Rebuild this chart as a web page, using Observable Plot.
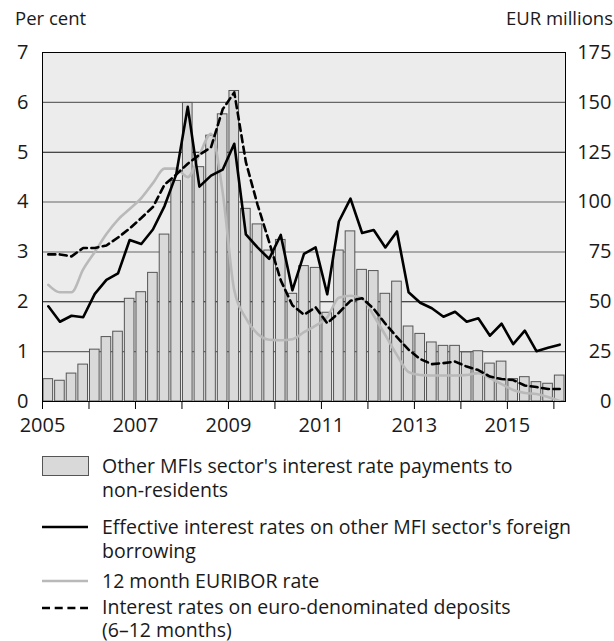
<!DOCTYPE html>
<html><head><meta charset="utf-8">
<script src="https://cdn.jsdelivr.net/npm/d3@7"></script>
<script src="https://cdn.jsdelivr.net/npm/@observablehq/plot@0.6"></script>
<style>
body{margin:0;background:#fff;font-family:"Open Sans",sans-serif;color:#1a1a1a;}
#wrap{position:relative;width:614px;height:641px;overflow:hidden;}
#wrap svg.plot{position:absolute;left:0;top:0;}
.t{position:absolute;font-size:18.5px;line-height:20px;white-space:nowrap;}
.leg{position:absolute;left:102px;font-size:19.5px;line-height:24px;white-space:nowrap;}
.sw{position:absolute;left:42px;}
</style></head><body><div id="wrap"></div>
<script>
const quarters = ["2005Q1","2005Q2","2005Q3","2005Q4","2006Q1","2006Q2","2006Q3","2006Q4",
  "2007Q1","2007Q2","2007Q3","2007Q4","2008Q1","2008Q2","2008Q3","2008Q4",
  "2009Q1","2009Q2","2009Q3","2009Q4","2010Q1","2010Q2","2010Q3","2010Q4",
  "2011Q1","2011Q2","2011Q3","2011Q4","2012Q1","2012Q2","2012Q3","2012Q4",
  "2013Q1","2013Q2","2013Q3","2013Q4","2014Q1","2014Q2","2014Q3","2014Q4",
  "2015Q1","2015Q2","2015Q3","2015Q4","2016Q1"];
// EUR millions (right axis)
const payments = [11.2,10.4,14,18.5,26,32.3,35,51.5,54.8,64.5,83.7,110.6,149.7,117.5,133.3,144,
  155.7,96.6,88.8,75.7,81,54,67.9,67,44.5,75.7,85.3,66,65.4,54,60.1,37.6,
  33.9,29.6,27.9,27.9,24.6,25.2,19,20,11.2,12.2,9.7,8.9,13];
// Per cent (left axis)
const effective = [1.91,1.60,1.72,1.69,2.16,2.44,2.57,3.24,3.16,3.45,3.92,4.55,5.91,4.31,4.53,4.65,
  5.17,3.35,3.09,2.86,3.34,2.23,2.96,3.09,2.15,3.61,4.07,3.38,3.44,3.09,3.41,2.19,
  1.98,1.87,1.70,1.80,1.60,1.67,1.32,1.56,1.15,1.42,1.01,1.08,1.14];
const euribor = [2.34,2.19,2.19,2.65,3.0,3.36,3.65,3.86,4.08,4.38,4.67,4.67,4.5,4.95,5.37,4.2,
  2.23,1.67,1.36,1.24,1.23,1.25,1.39,1.52,1.69,2.08,2.12,2.07,1.72,1.33,0.93,0.59,
  0.53,0.52,0.52,0.52,0.53,0.57,0.47,0.35,0.23,0.17,0.15,0.09,0.01];
const deposits = [2.95,2.95,2.91,3.08,3.08,3.13,3.29,3.47,3.68,3.9,4.35,4.55,4.77,4.95,5.1,5.86,
  6.2,4.8,3.95,3.2,2.43,1.93,1.74,1.89,1.57,1.78,2.02,2.07,1.86,1.56,1.29,1.04,
  0.85,0.75,0.77,0.80,0.70,0.63,0.50,0.45,0.43,0.32,0.29,0.25,0.25];
const yearTicks = [2005,2006,2007,2008,2009,2010,2011,2012,2013,2014,2015,2016];
const pctTicks = [0,1,2,3,4,5,6,7];
const gridLight = [1,3,4,6];
const gridDark = [2,5];
const eurPerPct = 25;
const leftTitle = "Per cent";
const rightTitle = "EUR millions";
const legendLabels = [
  ["Other MFIs sector's interest rate payments to","non-residents"],
  ["Effective interest rates on other MFI sector's foreign","borrowing"],
  ["12 month EURIBOR rate"],
  ["Interest rates on euro-denominated deposits","(6\u201312 months)"]
];

const rows = quarters.map((q, i) => {
  const [yy, qq] = q.split("Q");
  const start = +yy + (+qq - 1) / 4;
  return {start, end: start + 0.25, mid: start + 0.125,
    payments: payments[i], effective: effective[i], euribor: euribor[i], deposits: deposits[i]};
});

const plot = Plot.plot({
  width: 614, height: 440,
  marginTop: 52, marginLeft: 42, marginRight: 49, marginBottom: 39,
  style: {fontFamily: "'Open Sans', sans-serif", fontSize: "20px", color: "#1a1a1a", background: "transparent", overflow: "visible"},
  x: {domain: [2005, 2016.25]},
  y: {domain: [0, 7]},
  marks: [
    Plot.frame({fill: "#ececec"}),
    Plot.ruleY(gridLight, {stroke: "#666", strokeWidth: 1.1}),
    Plot.ruleY(gridDark, {stroke: "#111", strokeWidth: 1.1}),
    Plot.rectY(rows, {x1: "start", x2: "end", y: d => d.payments / eurPerPct,
      fill: "#d9d9d9", stroke: "#555", strokeWidth: 1, insetLeft: 1, insetRight: 1}),
    Plot.line(rows, {x: "mid", y: "euribor", stroke: "#b9b9b9", strokeWidth: 2.6, curve: "monotone-x"}),
    Plot.line(rows, {x: "mid", y: "deposits", stroke: "#000", strokeWidth: 2.6, strokeDasharray: "7,4.5"}),
    Plot.line(rows, {x: "mid", y: "effective", stroke: "#000", strokeWidth: 2.6}),
    Plot.frame({stroke: "#000", strokeWidth: 1}),
    Plot.axisY(pctTicks, {anchor: "left", tickSize: 0, tickPadding: 14, label: null,
      tickFormat: d => String(d)}),
    Plot.axisY(pctTicks, {anchor: "right", tickSize: 0, tickPadding: 46, textAnchor: "end",
      tickFormat: d => String(d * eurPerPct), label: null}),
    Plot.axisX(yearTicks, {tickSize: 8, tickPadding: 8, stroke: "#000",
      tickFormat: d => (d % 2 === 1 ? String(d) : ""), label: null})
  ]
});
plot.classList.add("plot");
const wrap = document.getElementById("wrap");
wrap.appendChild(plot);

function addDiv(cls, text, styles) {
  const el = document.createElement("div");
  el.className = cls;
  if (Array.isArray(text)) el.innerHTML = text.map(t => t.replace(/&/g,"&amp;").replace(/</g,"&lt;")).join("<br>");
  else el.textContent = text;
  Object.assign(el.style, styles);
  wrap.appendChild(el);
  return el;
}
addDiv("t", leftTitle, {left: "15px", top: "8px"});
addDiv("t", rightTitle, {right: "1px", top: "8px"});

// legend
const NS = "http://www.w3.org/2000/svg";
function swatch(top, kind) {
  const s = document.createElementNS(NS, "svg");
  s.setAttribute("width", "48"); s.setAttribute("height", "24");
  s.setAttribute("class", "sw");
  s.style.top = top + "px";
  if (kind === "rect") {
    const r = document.createElementNS(NS, "rect");
    r.setAttribute("x", "0.5"); r.setAttribute("y", "2.5"); r.setAttribute("width", "46"); r.setAttribute("height", "19");
    r.setAttribute("fill", "#d9d9d9"); r.setAttribute("stroke", "#555");
    s.appendChild(r);
  } else {
    const l = document.createElementNS(NS, "line");
    l.setAttribute("x1", "0"); l.setAttribute("x2", "46"); l.setAttribute("y1", "12"); l.setAttribute("y2", "12");
    l.setAttribute("stroke-width", "2.4");
    l.setAttribute("stroke", kind === "gray" ? "#b9b9b9" : "#000");
    if (kind === "dash") l.setAttribute("stroke-dasharray", "8,4.7");
    s.appendChild(l);
  }
  wrap.appendChild(s);
}
const legTops = [454, 515, 569, 596];
const legLineHeights = [24, 24, 24, 22.5];
const kinds = ["rect", "black", "gray", "dash"];
legendLabels.forEach((lines, i) => {
  swatch(legTops[i], kinds[i]);
  addDiv("leg", lines, {top: legTops[i] + "px", lineHeight: legLineHeights[i] + "px"});
});
</script></body></html>
